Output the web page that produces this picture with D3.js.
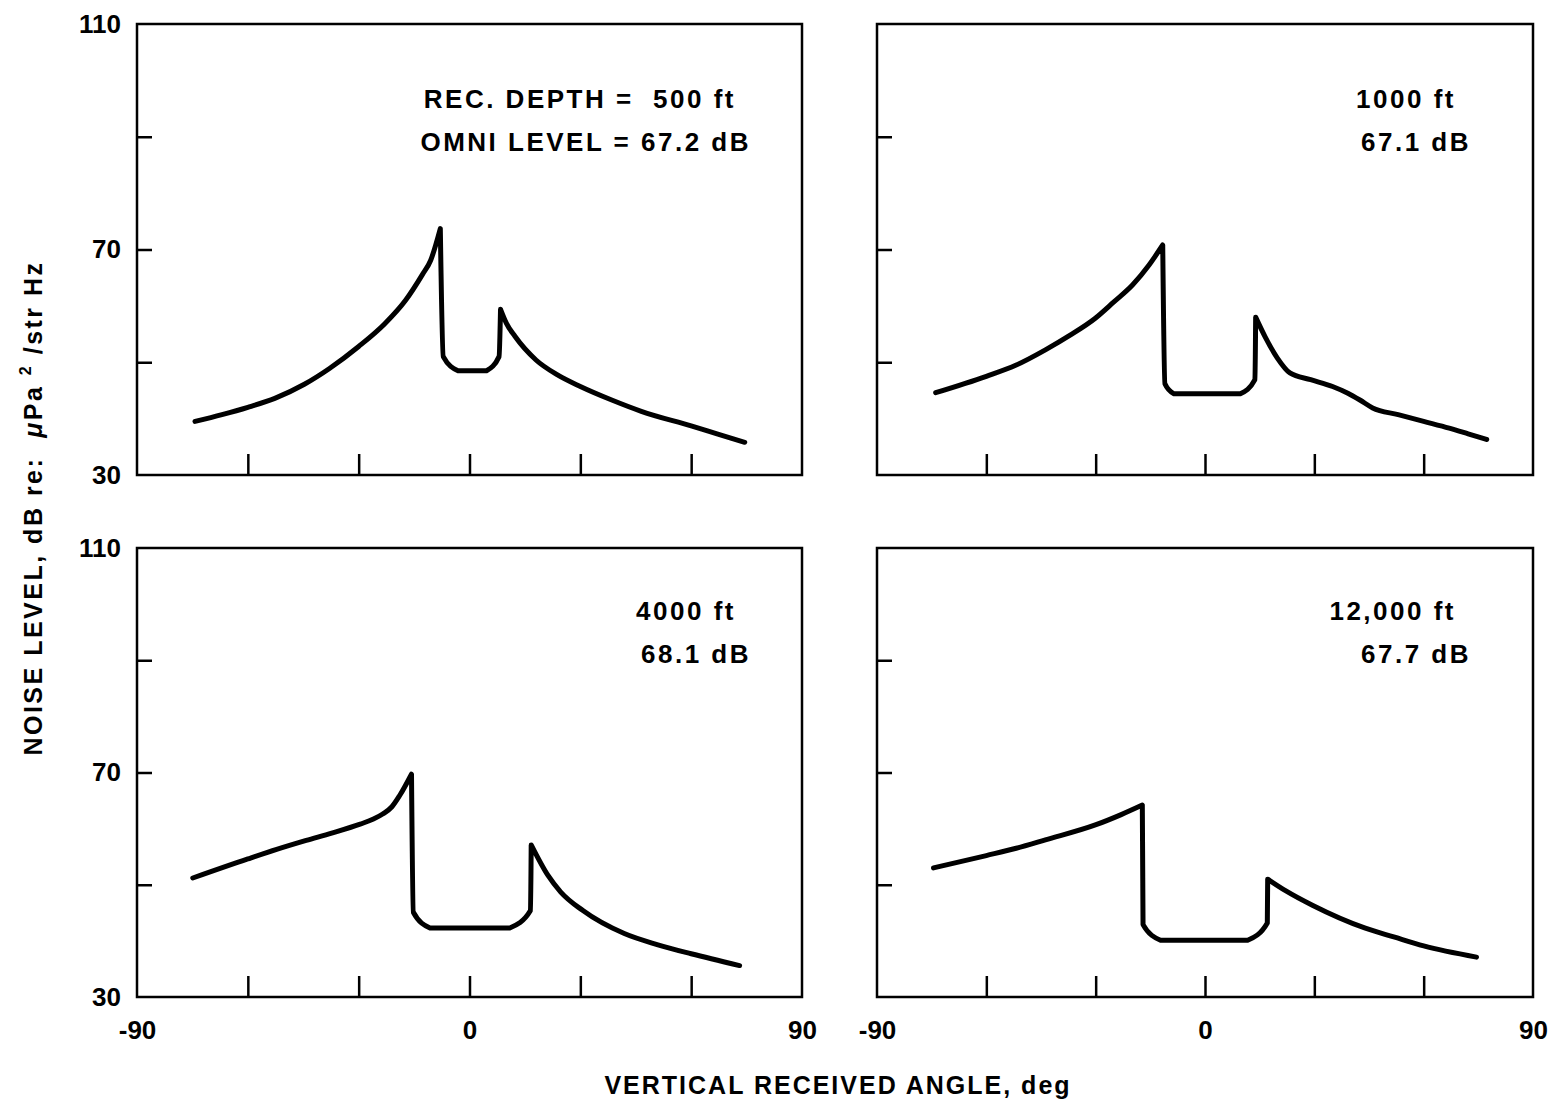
<!DOCTYPE html>
<html>
<head>
  <meta charset="utf-8">
  <script src="https://cdn.jsdelivr.net/npm/d3@7"></script>
  <style>
    body { margin: 0; background: #fff; }
    svg text { font-family: "Liberation Sans", Arial, sans-serif; font-weight: bold; fill: #000; white-space: pre; }
  </style>
</head>
<body>
<script>
  // values: angle (deg) vs noise level (dB)
  var angles500 = [-74.3, -67, -60, -52.7, -44.7, -37.9, -30, -23, -17.3, -12.8, -10.5, -7.9, -7.1, -3.1, 4.6, 8.0, 8.4, 10, 12.3, 18, 23.7, 30, 38.5, 46.5, 60, 67, 74.5];
  var levels500 = [39.5, 40.7, 42.0, 43.6, 46.1, 48.9, 52.8, 56.8, 61.0, 65.5, 68.1, 73.7, 51.0, 48.5, 48.5, 51.0, 59.4, 56.9, 54.6, 50.4, 47.8, 45.7, 43.3, 41.3, 38.7, 37.3, 35.8];

  var angles1000 = [-73.9, -60, -51.8, -43.8, -37, -30.1, -25, -19.9, -15.4, -11.6, -11.0, -8.5, 9.7, 13.7, 13.9, 16.5, 19.9, 23.3, 29, 35, 39.2, 42.5, 46, 53, 60, 67, 72.2, 77.3];
  var levels1000 = [44.6, 47.5, 49.5, 52.2, 54.8, 57.8, 60.7, 63.7, 67.2, 70.8, 46.2, 44.4, 44.4, 46.9, 58.0, 54.5, 50.7, 48.1, 46.9, 45.7, 44.5, 43.3, 41.9, 40.7, 39.5, 38.3, 37.3, 36.3];

  var angles4000 = [-74.9, -60, -52.2, -44.2, -37.3, -29.6, -26, -23.5, -21, -18.9, -15.7, -15.2, -10.7, 10.9, 16.5, 16.7, 21.2, 24.7, 30.7, 41.9, 51, 60, 73.1];
  var levels4000 = [51.2, 54.6, 56.3, 57.9, 59.2, 60.8, 61.7, 62.6, 63.9, 65.9, 69.7, 45.1, 42.3, 42.3, 45.4, 57.1, 51.7, 48.7, 45.4, 41.3, 39.3, 37.7, 35.6];

  var angles12000 = [-74.5, -60, -51.8, -43.8, -29.9, -23, -17.2, -17.0, -12.2, 11.7, 17.1, 17.2, 22.2, 29.6, 43.8, 51.8, 60, 74.5];
  var levels12000 = [53.0, 55.2, 56.5, 58.0, 60.7, 62.5, 64.2, 42.9, 40.1, 40.1, 43.2, 51.0, 48.9, 46.3, 42.3, 40.7, 39.1, 37.1];

  var depthLabels = ["REC. DEPTH =  500 ft", "1000 ft", "4000 ft", "12,000 ft"];
  var omniLabels = ["OMNI LEVEL = 67.2 dB", "67.1 dB", "68.1 dB", "67.7 dB"];

  var yTicks = [50, 70, 90];
  var yTickLabels = [30, 70, 110];
  var xTicks = [-60, -30, 0, 30, 60];
  var xTickLabels = [-90, 0, 90];

  var allAngles = [angles500, angles1000, angles4000, angles12000];
  var allLevels = [levels500, levels1000, levels4000, levels12000];

  var svg = d3.select("body").append("svg")
    .attr("width", 1558)
    .attr("height", 1102);

  // panel boxes in page pixels
  var boxes = [
    {x0: 137, x1: 802, y0: 24, y1: 475, left: true, bottom: false, tx: 736, ty: 108},
    {x0: 877, x1: 1533, y0: 24, y1: 475, left: false, bottom: false, tx: 1456, ty: 108},
    {x0: 137, x1: 802, y0: 548, y1: 997, left: true, bottom: true, tx: 736, ty: 620},
    {x0: 877, x1: 1533, y0: 548, y1: 997, left: false, bottom: true, tx: 1456, ty: 620}
  ];

  // split a polyline wherever it turns up/down, so peaks and corners stay sharp
  function runs(pts) {
    var out = [], cur = [pts[0]], dir = null;
    for (var k = 1; k < pts.length; k++) {
      var d = Math.sign(pts[k][1] - pts[k - 1][1]);
      if (dir !== null && d !== dir) { out.push(cur); cur = [pts[k - 1]]; }
      cur.push(pts[k]);
      dir = d;
    }
    out.push(cur);
    return out;
  }

  boxes.forEach(function(b, i) {
    var x = d3.scaleLinear().domain([-90, 90]).range([b.x0, b.x1]);
    var y = d3.scaleLinear().domain([30, 110]).range([b.y1, b.y0]);
    var g = svg.append("g");

    g.append("rect")
      .attr("x", b.x0).attr("y", b.y0)
      .attr("width", b.x1 - b.x0).attr("height", b.y1 - b.y0)
      .attr("fill", "none").attr("stroke", "#000").attr("stroke-width", 2.5);

    // inward ticks
    var ya = g.append("g").attr("transform", "translate(" + b.x0 + ",0)")
      .call(d3.axisLeft(y).tickValues(yTicks).tickSize(-15).tickFormat(""));
    ya.select(".domain").remove();
    ya.selectAll("line").attr("stroke-width", 2.5);

    var xa = g.append("g").attr("transform", "translate(0," + b.y1 + ")")
      .call(d3.axisBottom(x).tickValues(xTicks).tickSize(-21).tickFormat(""));
    xa.select(".domain").remove();
    xa.selectAll("line").attr("stroke-width", 2.5);

    if (b.left) {
      var yl = g.append("g").attr("transform", "translate(" + b.x0 + ",0)")
        .call(d3.axisLeft(y).tickValues(yTickLabels).tickSize(0).tickPadding(16));
      yl.select(".domain").remove();
      yl.attr("font-size", 26).attr("font-family", null);
    }
    if (b.bottom) {
      var xl = g.append("g").attr("transform", "translate(0," + b.y1 + ")")
        .call(d3.axisBottom(x).tickValues(xTickLabels).tickSize(0).tickPadding(24));
      xl.select(".domain").remove();
      xl.attr("font-size", 26).attr("font-family", null);
      xl.selectAll("text").text(function(d) { return d; });
    }

    var pts = allAngles[i].map(function(a, k) { return [a, allLevels[i][k]]; });
    var line = d3.line()
      .curve(d3.curveMonotoneX)
      .x(function(d) { return x(d[0]); })
      .y(function(d) { return y(d[1]); });

    var dPath = runs(pts).map(function(r, k) {
      var s = line(r);
      return k ? s.replace(/^M/, "L") : s;
    }).join("");

    g.append("path")
      .attr("d", dPath)
      .attr("fill", "none")
      .attr("stroke", "#000")
      .attr("stroke-width", 5)
      .attr("stroke-linejoin", "round")
      .attr("stroke-linecap", "round");

    g.append("text")
      .attr("x", b.tx).attr("y", b.ty)
      .attr("text-anchor", "end")
      .attr("font-size", 26)
      .style("letter-spacing", "2.5px")
      .text(depthLabels[i]);
    g.append("text")
      .attr("x", b.tx + 15).attr("y", b.ty + 43)
      .attr("text-anchor", "end")
      .attr("font-size", 26)
      .style("letter-spacing", "2.5px")
      .text(omniLabels[i]);
  });

  // axis titles
  var yt = svg.append("text")
    .attr("transform", "translate(42,508) rotate(-90)")
    .attr("text-anchor", "middle")
    .attr("font-size", 25)
    .style("letter-spacing", "2.5px");
  yt.append("tspan").text("NOISE LEVEL, dB re:  ");
  yt.append("tspan").attr("font-style", "italic").text("\u03bc");
  yt.append("tspan").text("Pa ");
  yt.append("tspan").attr("font-size", 16).attr("dy", -11).text("2");
  yt.append("tspan").attr("dy", 11).text(" /str Hz");

  svg.append("text")
    .attr("x", 838).attr("y", 1094)
    .attr("text-anchor", "middle")
    .attr("font-size", 25)
    .style("letter-spacing", "2px")
    .text("VERTICAL RECEIVED ANGLE, deg");
</script>
</body>
</html>
